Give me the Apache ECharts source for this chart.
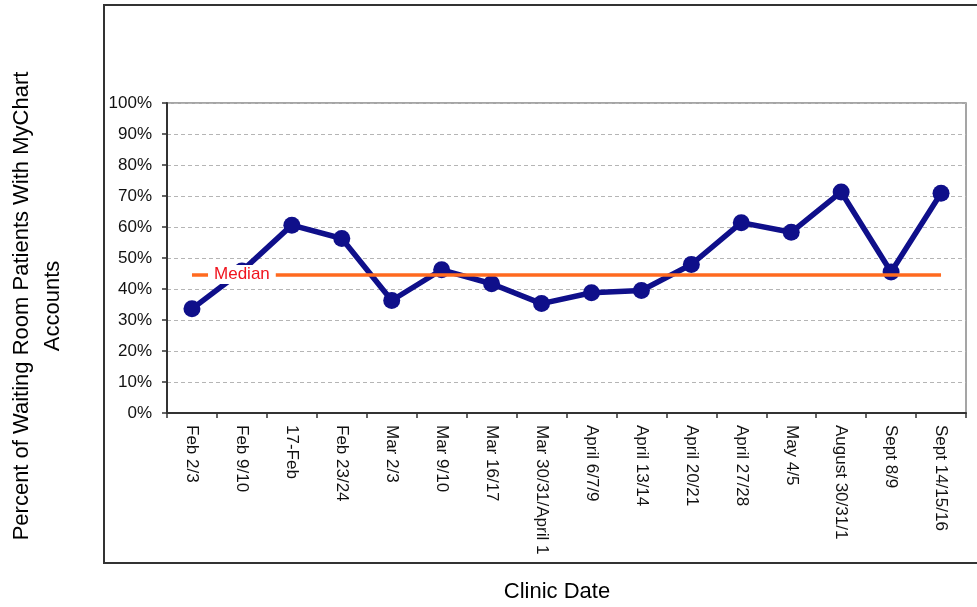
<!DOCTYPE html>
<html>
<head>
<meta charset="utf-8">
<script src="https://cdn.jsdelivr.net/npm/echarts@6/dist/echarts.min.js"></script>
<style>html,body{margin:0;padding:0;background:#fff}#c{width:977px;height:607px}</style>
</head>
<body>
<div id="c"></div>
<script>
const categories = ['Feb 2/3','Feb 9/10','17-Feb','Feb 23/24','Mar 2/3','Mar 9/10','Mar 16/17','Mar 30/31/April 1','April 6/7/9','April 13/14','April 20/21','April 27/28','May 4/5','August 30/31/1','Sept 8/9','Sept 14/15/16'];
const values = [33.6, 45.8, 60.6, 56.3, 36.3, 46.2, 41.7, 35.3, 38.8, 39.5, 47.9, 61.4, 58.3, 71.3, 45.5, 70.9];
const medianValue = 44.7;
const yTicks = [0,10,20,30,40,50,60,70,80,90,100];
const xTitle = 'Clinic Date';
const yTitle = 'Percent of Waiting Room Patients With MyChart\nAccounts';

const chart = echarts.init(document.getElementById('c'));
const font = 'Liberation Sans, Arial, sans-serif';
chart.setOption({
  animation: false,
  backgroundColor: '#fff',
  graphic: [{
    type: 'rect', shape: {x: 104, y: 5, width: 900, height: 558},
    style: {fill: 'none', stroke: '#333', lineWidth: 2}, z: -10, silent: true
  }, {
    type: 'text', x: 37, y: 306, rotation: Math.PI / 2, silent: true,
    style: {text: yTitle, fontFamily: font, fontSize: 22, lineHeight: 31, fill: '#000', align: 'center', verticalAlign: 'middle'}
  }, {
    type: 'text', x: 557, y: 592, silent: true,
    style: {text: xTitle, fontFamily: font, fontSize: 22, fill: '#000', align: 'center', verticalAlign: 'middle'}
  }],
  grid: {left: 167, right: 11, top: 103, bottom: 194, show: true, borderColor: '#888', borderWidth: 1.5, backgroundColor: 'transparent'},
  xAxis: {
    type: 'category', data: categories, boundaryGap: true,
    axisLine: {lineStyle: {color: '#333', width: 2}},
    axisTick: {show: true, inside: false, length: 5, lineStyle: {color: '#333', width: 1.5}, alignWithLabel: false},
    axisLabel: {rotate: -90, fontFamily: font, fontSize: 17, color: '#111', margin: 12, interval: 0, align: 'left', verticalAlign: 'middle'},
    splitLine: {show: false}
  },
  yAxis: {
    type: 'value', min: 0, max: 100, interval: 10,
    axisLine: {show: true, lineStyle: {color: '#333', width: 2}},
    axisTick: {show: true, length: 5, lineStyle: {color: '#333', width: 1.5}},
    axisLabel: {fontFamily: font, fontSize: 17, color: '#111', margin: 15, formatter: v => yTicks.includes(v) ? v + '%' : ''},
    splitLine: {show: true, lineStyle: {color: '#b5b5b5', type: [4, 3], width: 1}}
  },
  series: [{
    name: 'Percent', type: 'line', data: values,
    symbol: 'circle', symbolSize: 17,
    itemStyle: {color: '#0f0f8a'},
    lineStyle: {color: '#0f0f8a', width: 5.5},
    z: 2
  }, {
    name: 'Median', type: 'line', data: [],
    z: 5,
    markLine: {
      silent: true, symbol: 'none',
      lineStyle: {color: '#ff6a1f', width: 3.5, type: 'solid'},
      label: {show: false},
      data: [[{coord: [categories[0], medianValue]}, {coord: [categories[categories.length - 1], medianValue]}]]
    },
    markPoint: {
      silent: true, symbol: 'circle', symbolSize: 0,
      label: {show: true, position: 'inside', formatter: 'Median', color: '#f0141e', fontFamily: font, fontSize: 17,
        backgroundColor: '#fff', padding: [1, 6, 1, 6]},
      data: [{coord: [categories[1], medianValue]}]
    }
  }]
});
</script>
</body>
</html>
